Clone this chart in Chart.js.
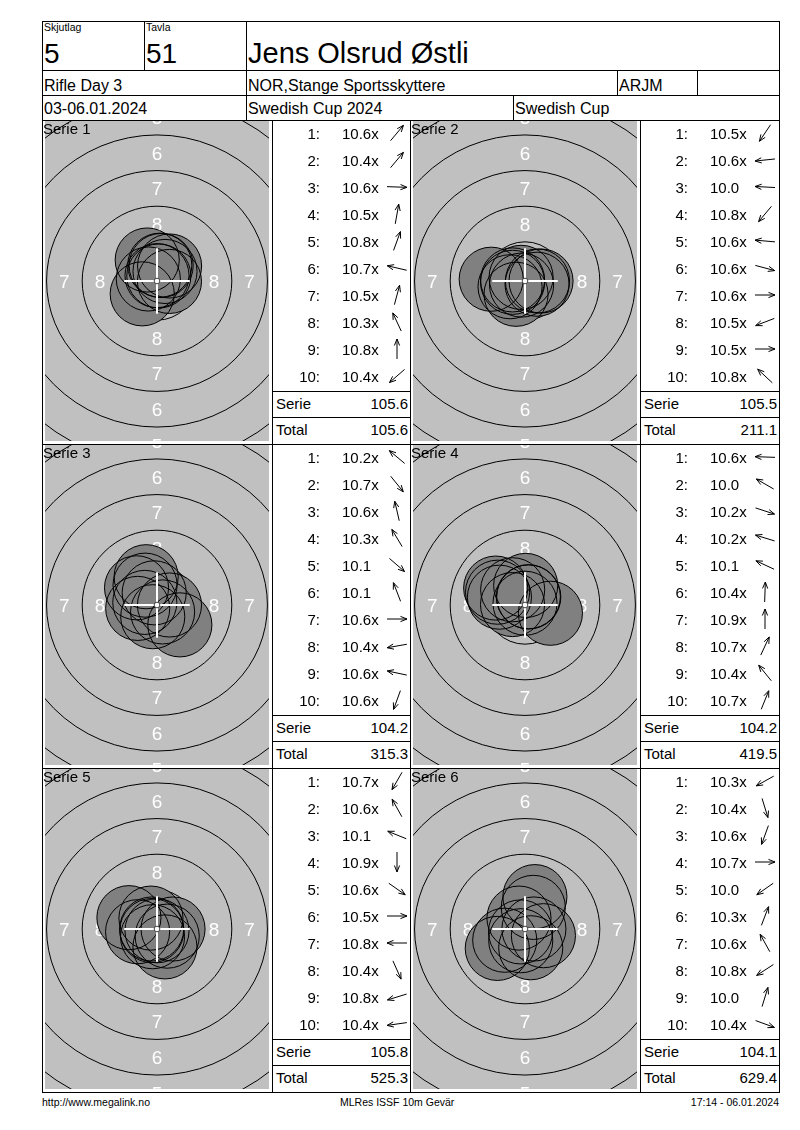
<!DOCTYPE html>
<html>
<head>
<meta charset="utf-8">
<script src="https://cdn.jsdelivr.net/npm/chart.js@4.4.1/dist/chart.umd.min.js"></script>
<style>
body { margin: 0; background: #fff; font-family: "Liberation Sans", Arial, sans-serif; color: #000; }
#page { position: relative; width: 800px; height: 1130px; overflow: hidden; }
.t { position: absolute; white-space: nowrap; line-height: 1; }
.ln { position: absolute; background: #000; }
canvas, svg { position: absolute; }
</style>
</head>
<body>
<div id="page"></div>
<script>
// header
var relayNo = '5';
var laneNo = '51';
var shooterName = 'Jens Olsrud Østli';
var eventName = 'Rifle Day 3';
var clubName = 'NOR,Stange Sportsskyttere';
var className = 'ARJM';
var dateText = '03-06.01.2024';
var compName = 'Swedish Cup 2024';
var cupName = 'Swedish Cup';

// shots: decimal score and direction of the arrow (degrees, 0 = up, clockwise)
var scores1 = [10.6, 10.4, 10.6, 10.5, 10.8, 10.7, 10.5, 10.3, 10.8, 10.4];
var dirs1   = [40, 40, 92, 10, 20, 283, 15, 335, 0, 229];
var scores2 = [10.5, 10.6, 10.0, 10.8, 10.6, 10.6, 10.6, 10.5, 10.5, 10.8];
var dirs2   = [214, 264, 273, 220, 275, 105, 90, 249, 90, 313];
var scores3 = [10.2, 10.7, 10.6, 10.3, 10.1, 10.1, 10.6, 10.4, 10.6, 10.6];
var dirs3   = [310, 141, 347, 329, 131, 339, 90, 260, 282, 200];
var scores4 = [10.6, 10.0, 10.2, 10.2, 10.1, 10.4, 10.9, 10.7, 10.4, 10.7];
var dirs4   = [272, 300, 108, 287, 295, 2, 0, 25, 321, 22];
var scores5 = [10.7, 10.6, 10.1, 10.9, 10.6, 10.5, 10.8, 10.4, 10.8, 10.4];
var dirs5   = [210, 331, 292, 180, 125, 90, 270, 156, 253, 262];
var scores6 = [10.3, 10.4, 10.6, 10.7, 10.0, 10.3, 10.6, 10.8, 10.0, 10.4];
var dirs6   = [241, 163, 200, 90, 235, 21, 331, 237, 17, 110];

var serieSums = [105.6, 105.5, 104.2, 104.2, 105.8, 104.1];
var totals    = [105.6, 211.1, 315.3, 419.5, 525.3, 629.4];

var footLeft = 'http://www.megalink.no';
var footMid = 'MLRes ISSF 10m Gevär';
var footRight = '17:14 - 06.01.2024';

var allScores = [scores1, scores2, scores3, scores4, scores5, scores6];
var allDirs = [dirs1, dirs2, dirs3, dirs4, dirs5, dirs6];

var page = document.getElementById('page');

function text(str, left, y, size, width, align) {
    var d = document.createElement('div');
    d.className = 't';
    d.textContent = str;
    d.style.left = left + 'px';
    d.style.top = y + 'px';
    d.style.fontSize = size + 'px';
    if (width) { d.style.width = width + 'px'; d.style.textAlign = align || 'left'; }
    page.appendChild(d);
}
function hline(x1, x2, y) {
    var d = document.createElement('div');
    d.className = 'ln';
    d.style.left = x1 + 'px'; d.style.top = y + 'px';
    d.style.width = (x2 - x1) + 'px'; d.style.height = '1px';
    page.appendChild(d);
}
function vline(x, y1, y2) {
    var d = document.createElement('div');
    d.className = 'ln';
    d.style.left = x + 'px'; d.style.top = y1 + 'px';
    d.style.width = '1px'; d.style.height = (y2 - y1) + 'px';
    page.appendChild(d);
}
function arrow(cx, cy, deg) {
    var a = deg * Math.PI / 180, dx = Math.sin(a), dy = -Math.cos(a), L = 10, H = 7, f = 0.38;
    var x1 = 12 - dx * L, y1 = 12 - dy * L, x2 = 12 + dx * L, y2 = 12 + dy * L;
    var h1x = x2 - H * (dx * Math.cos(f) - dy * Math.sin(f)), h1y = y2 - H * (dx * Math.sin(f) + dy * Math.cos(f));
    var h2x = x2 - H * (dx * Math.cos(-f) - dy * Math.sin(-f)), h2y = y2 - H * (dx * Math.sin(-f) + dy * Math.cos(-f));
    var s = document.createElementNS('http://www.w3.org/2000/svg', 'svg');
    s.setAttribute('width', 24); s.setAttribute('height', 24);
    s.style.left = (cx - 12) + 'px'; s.style.top = (cy - 12) + 'px';
    s.innerHTML = '<path d="M' + x1 + ' ' + y1 + 'L' + x2 + ' ' + y2 + 'M' + h1x + ' ' + h1y + 'L' + x2 + ' ' + y2 + 'L' + h2x + ' ' + h2y +
        '" fill="none" stroke="#000" stroke-width="1"/>';
    page.appendChild(s);
}

// frame
[21, 70, 95, 120, 444, 768, 1092].forEach(function(y) { hline(42, 780, y); });
vline(42, 21, 1093); vline(779, 21, 1093);
vline(144, 21, 70); vline(246, 21, 120);
vline(617, 70, 95); vline(697, 70, 95); vline(513, 95, 120);
[272, 410, 640].forEach(function(x) { vline(x, 120, 1093); });

text('Skjutlag', 44, 22, 10.5); text('Tavla', 146, 22, 10.5);
text(relayNo, 44, 39.6, 28); text(laneNo, 146, 39.6, 28);
text(shooterName, 248, 38.8, 29);
text(eventName, 44, 78.2, 16); text(clubName, 248, 78.2, 16); text(className, 619, 78.2, 16);
text(dateText, 44, 100.5, 16); text(compName, 248, 100.5, 16); text(cupName, 515, 100.5, 16);

text(footLeft, 42, 1097, 10.5);
text(footMid, 340, 1097, 10.5);
text(footRight, 579, 1097, 10.5, 200, 'right');

// target drawing (mm)
var ringRadii = [2.75, 5.25, 7.75, 10.25, 12.75, 15.25];
var ringLabels = ['8', '7', '6', '5', '4'];
var labelRadii = [4.0, 6.5, 9.0, 11.5, 14.0];
var pelletR = 2.25;
var xHalf = 7.86, yHalf = 11.228;
var plotW = 224, plotH = 320;

var targetPlugin = {
    id: 'target',
    beforeDatasetsDraw: function(chart) {
        var ctx = chart.ctx, a = chart.chartArea, x = chart.scales.x, y = chart.scales.y;
        var cx = x.getPixelForValue(0), cy = y.getPixelForValue(0), k = x.getPixelForValue(1) - cx;
        ctx.save();
        ctx.beginPath();
        ctx.rect(a.left, a.top, a.right - a.left, a.bottom - a.top);
        ctx.clip();
        ctx.fillStyle = '#c0c0c0';
        ctx.fillRect(a.left, a.top, a.right - a.left, a.bottom - a.top);
        ctx.strokeStyle = '#000';
        ctx.lineWidth = 1;
        ringRadii.forEach(function(r) {
            ctx.beginPath(); ctx.arc(cx, cy, r * k, 0, 2 * Math.PI); ctx.stroke();
        });
        ctx.fillStyle = '#fff';
        ctx.font = '19px "Liberation Sans", Arial, sans-serif';
        ctx.textAlign = 'center';
        ctx.textBaseline = 'alphabetic';
        ringLabels.forEach(function(n, i) {
            var m = labelRadii[i] * k;
            [[0, -m], [0, m], [-m, 0], [m, 0]].forEach(function(p) {
                ctx.fillText(n, cx + p[0], cy + p[1] + 0.358 * 19);
            });
        });
        ctx.restore();
    },
    afterDatasetsDraw: function(chart) {
        var ctx = chart.ctx, x = chart.scales.x, y = chart.scales.y;
        var cx = x.getPixelForValue(0), cy = y.getPixelForValue(0), k = x.getPixelForValue(1) - cx;
        ctx.save();
        ctx.strokeStyle = '#fff';
        ctx.lineWidth = 2;
        ctx.beginPath();
        ctx.moveTo(cx - 2.3 * k, cy); ctx.lineTo(cx + 2.3 * k, cy);
        ctx.moveTo(cx, cy - 2.3 * k); ctx.lineTo(cx, cy + 2.3 * k);
        ctx.stroke();
        ctx.beginPath();
        ctx.arc(cx, cy, 0.2 * k, 0, 2 * Math.PI);
        ctx.fillStyle = '#fff'; ctx.fill();
        ctx.strokeStyle = '#404040'; ctx.lineWidth = 1; ctx.stroke();
        ctx.restore();
    }
};

// pellet radius in pixels for the axis range used
var pelletPx = pelletR * plotW / (2 * xHalf);

var blockTops = [120, 444, 768];
var cellLefts = [42, 410];
var listLefts = [272, 640];
var listWidths = [138, 139];

for (var k = 0; k < 6; k++) {
    var bTop = blockTops[Math.floor(k / 2)], col = k % 2;
    var cellLeft = cellLefts[col], listLeft = listLefts[col], listW = listWidths[col];
    var scores = allScores[k], dirs = allDirs[k];

    var cv = document.createElement('canvas');
    cv.width = plotW; cv.height = plotH;
    cv.style.left = (cellLeft + 3) + 'px'; cv.style.top = (bTop + 1) + 'px';
    cv.style.width = plotW + 'px'; cv.style.height = plotH + 'px';
    page.appendChild(cv);

    var pts = scores.map(function(s, i) {
        var d = (10.95 - s) * 2.5, a = dirs[i] * Math.PI / 180;
        return { x: d * Math.sin(a), y: d * Math.cos(a) };
    });

    new Chart(cv.getContext('2d'), {
        type: 'bubble',
        data: {
            datasets: [{
                data: pts,
                backgroundColor: 'rgba(0,0,0,0)',
                borderColor: '#000',
                borderWidth: 1,
                radius: pelletPx,
                hoverRadius: 0,
                order: 0
            }, {
                data: pts.slice(),
                backgroundColor: '#808080',
                borderColor: '#808080',
                borderWidth: 0,
                radius: pelletPx,
                hoverRadius: 0,
                order: 1
            }]
        },
        options: {
            responsive: false,
            animation: false,
            events: [],
            layout: { padding: 0, autoPadding: false },
            plugins: { legend: { display: false }, tooltip: { enabled: false } },
            scales: {
                x: { display: false, min: -xHalf, max: xHalf },
                y: { display: false, min: -yHalf, max: yHalf }
            }
        },
        plugins: [targetPlugin]
    });

    text('Serie ' + (k + 1), cellLeft + 1, bTop + 1.3, 15);

    for (var i = 0; i < 10; i++) {
        var rowY = bTop + 13 + 27.03 * i;
        var sc = scores[i];
        text((i + 1) + ':', listLeft, rowY - 7.3, 15, 48, 'right');
        text(sc.toFixed(1) + (sc >= 10.2 ? 'x' : ''), listLeft + 70, rowY - 7.3, 15);
        arrow(listLeft + 124.5, rowY, dirs[i]);
    }
    hline(listLeft, listLeft + listW, bTop + 271);
    hline(listLeft, listLeft + listW, bTop + 297);
    text('Serie', listLeft + 4, bTop + 276, 15);
    text(serieSums[k].toFixed(1), listLeft, bTop + 276, 15, listW - 2, 'right');
    text('Total', listLeft + 4, bTop + 302, 15);
    text(totals[k].toFixed(1), listLeft, bTop + 302, 15, listW - 2, 'right');
}
</script>
</body>
</html>
